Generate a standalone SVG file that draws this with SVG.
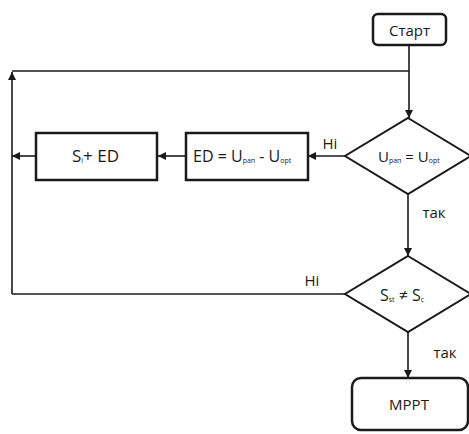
<svg xmlns="http://www.w3.org/2000/svg" width="469" height="434" viewBox="0 0 469 434">
  <style>
    .box { fill: #ffffff; stroke: #1a1a1a; stroke-width: 2.5; }
    .dia { fill: #ffffff; stroke: #1a1a1a; stroke-width: 2; }
    .line { fill: none; stroke: #1a1a1a; stroke-width: 1.6; }
    text { font-family: "Open Sans", "DejaVu Sans", sans-serif; fill: #1a1a1a; }
    .lbl { font-size: 15px; text-anchor: middle; }
    .sub { font-size: 7px; }
  </style>
  <defs>
    <marker id="arrow" viewBox="0 0 10 10" refX="10" refY="5" markerWidth="8" markerHeight="8" markerUnits="userSpaceOnUse" orient="auto">
      <path d="M0,0 L10,5 L0,10 z" fill="#1a1a1a"/>
    </marker>
  </defs>
  <rect width="469" height="434" fill="#ffffff"/>

  <g id="connectors">
    <!-- start down to first decision -->
    <path class="line" d="M409,45 V118" marker-end="url(#arrow)"/>
    <!-- loop back line on top -->
    <path class="line" d="M409,71 H12"/>
    <!-- left return riser -->
    <path class="line" d="M12,294 V72" marker-end="url(#arrow)"/>
    <!-- decision 1 "ні" to ED box -->
    <path class="line" d="M345,156 H308" marker-end="url(#arrow)"/>
    <!-- ED box to S box -->
    <path class="line" d="M186,156 H158" marker-end="url(#arrow)"/>
    <!-- S box to riser -->
    <path class="line" d="M36,156 H12" marker-end="url(#arrow)"/>
    <!-- decision 1 "так" to decision 2 -->
    <path class="line" d="M408,194 V256" marker-end="url(#arrow)"/>
    <!-- decision 2 "ні" back to riser -->
    <path class="line" d="M345,294 H12"/>
    <!-- decision 2 "так" to MPPT -->
    <path class="line" d="M408,332 V378" marker-end="url(#arrow)"/>
    <text class="lbl" x="330" y="149" font-size="13">Hi</text>
    <text class="lbl" x="434" y="218">так</text>
    <text class="lbl" x="312" y="286" font-size="13">Hi</text>
    <text class="lbl" x="445" y="358">так</text>
  </g>

  <g id="start">
    <rect class="box" x="373" y="14" width="73" height="31" rx="5"/>
    <text class="lbl" x="409.5" y="35.5" font-size="16">Старт</text>
  </g>

  <g id="decision1">
    <polygon class="dia" points="408,118 471,156 408,194 345,156"/>
    <text x="378" y="162" font-size="15">U<tspan class="sub" dy="1">рап</tspan><tspan dy="-1"> = U</tspan><tspan class="sub" dy="1">opt</tspan></text>
  </g>

  <g id="ed-box">
    <rect class="box" x="186" y="133" width="122" height="47"/>
    <text x="193" y="162" font-size="16">ED = U<tspan class="sub" dy="1">рап</tspan><tspan dy="-1"> - U</tspan><tspan class="sub" dy="1">opt</tspan></text>
  </g>

  <g id="s-box">
    <rect class="box" x="36" y="133" width="121" height="47"/>
    <text x="72" y="162" font-size="17">S<tspan class="sub" dy="1">i</tspan><tspan dy="-1">+ ED</tspan></text>
  </g>

  <g id="decision2">
    <polygon class="dia" points="408,256 471,294 408,332 345,294"/>
    <text x="380" y="301" font-size="16">S<tspan class="sub" dy="1">st</tspan><tspan dy="-1"> ≠ S</tspan><tspan class="sub" dy="1">c</tspan></text>
  </g>

  <g id="mppt">
    <rect class="box" x="352" y="378" width="116" height="52" rx="9"/>
    <text class="lbl" x="409" y="410" font-size="16">MPPT</text>
  </g>
</svg>
